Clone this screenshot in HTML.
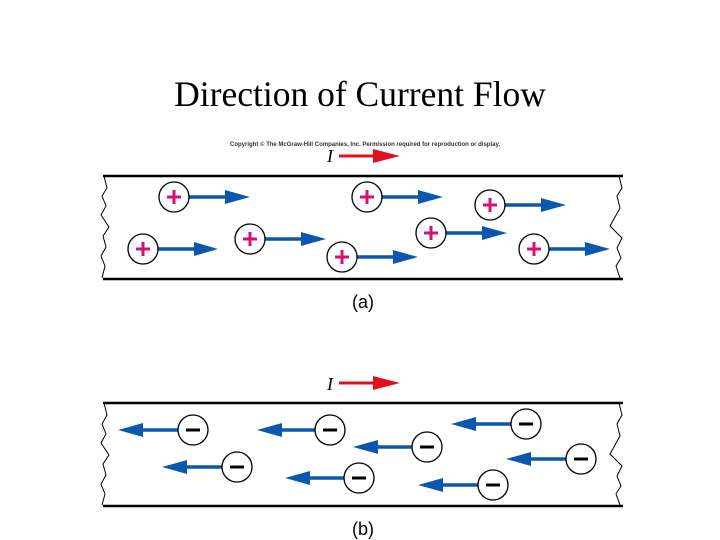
<!DOCTYPE html>
<html><head><style>
html,body{margin:0;padding:0;background:#fff;width:720px;height:540px;overflow:hidden}
</style></head><body>
<svg width="720" height="540" xmlns="http://www.w3.org/2000/svg">
<defs>
<g id="p"><circle r="15" fill="#fff" stroke="#000" stroke-width="1.3"/><path d="M-7 0H7M0 -7V7" stroke="#d6106e" stroke-width="3"/></g>
<g id="m"><circle r="15" fill="#fff" stroke="#000" stroke-width="1.3"/><path d="M-7 0H7" stroke="#000" stroke-width="3"/></g>
</defs>
<text x="360" y="106" text-anchor="middle" font-family="Liberation Serif, serif" font-size="35.5">Direction of Current Flow</text>
<text x="365" y="146" text-anchor="middle" font-family="Liberation Sans, sans-serif" font-size="6" font-weight="bold" fill="#333">Copyright © The McGraw-Hill Companies, Inc. Permission required for reproduction or display.</text>
<text x="327" y="162" font-family="Liberation Serif, serif" font-style="italic" font-size="18">I</text>
<path d="M339 156H375" stroke="#e0101e" stroke-width="3"/><path d="M373 149L400 156L373 163Z" fill="#e0101e"/>
<text x="327" y="390" font-family="Liberation Serif, serif" font-style="italic" font-size="18">I</text>
<path d="M339 383H375" stroke="#e0101e" stroke-width="3"/><path d="M373 376L400 383L373 390Z" fill="#e0101e"/>
<g stroke="#000" fill="none">
<path d="M103 176H623M103 279H623" stroke-width="2.5"/>
<path d="M104 176L107 188L102 196L106 206L101 215L109 227L103 236L106 247L101 256L105 266L102 278" stroke-width="1"/>
<path d="M619 176L622 188L617 196L620 208L610 226L622 238L617 248L621 258L616 266L620 278" stroke-width="1"/>
<path d="M103 403H623M103 506H623" stroke-width="2.5"/>
<path d="M104 403L107 415L102 424L106 434L101 443L109 455L103 464L106 475L101 484L105 494L102 505" stroke-width="1"/>
<path d="M619 403L622 415L617 424L620 436L610 454L622 466L617 476L621 486L616 494L620 505" stroke-width="1"/>
</g>
<g stroke="#0b57b0" stroke-width="3.5">
<path d="M189 197H228M382 197H421M505 205H544M158 249H197M265 239H304M357 257H396M446 233H485M549 249H588"/>
<path d="M178 430H140M315 430H279M412 447H375M222 467H184M344 478H307M511 424H473M566 459H528M478 485H440"/>
</g>
<g fill="#0b57b0">
<path d="M225 190L250 197L225 204Z"/><path d="M418 190L443 197L418 204Z"/><path d="M541 198L566 205L541 212Z"/>
<path d="M194 242L218 249L194 256Z"/><path d="M301 232L326 239L301 246Z"/><path d="M393 250L418 257L393 264Z"/>
<path d="M482 226L507 233L482 240Z"/><path d="M585 242L610 249L585 256Z"/>
<path d="M143 423L118 430L143 437Z"/><path d="M282 423L257 430L282 437Z"/><path d="M378 440L353 447L378 454Z"/>
<path d="M187 460L162 467L187 474Z"/><path d="M310 471L285 478L310 485Z"/><path d="M476 417L451 424L476 431Z"/>
<path d="M531 452L506 459L531 466Z"/><path d="M443 478L418 485L443 492Z"/>
</g>
<use href="#p" x="174" y="197"/><use href="#p" x="367" y="197"/><use href="#p" x="490" y="205"/>
<use href="#p" x="143" y="249"/><use href="#p" x="250" y="239"/><use href="#p" x="342" y="257"/>
<use href="#p" x="431" y="233"/><use href="#p" x="534" y="249"/>
<use href="#m" x="193" y="430"/><use href="#m" x="330" y="430"/><use href="#m" x="427" y="447"/>
<use href="#m" x="237" y="467"/><use href="#m" x="359" y="478"/><use href="#m" x="526" y="424"/>
<use href="#m" x="581" y="459"/><use href="#m" x="493" y="485"/>
<text x="363" y="308" text-anchor="middle" font-family="Liberation Sans, sans-serif" font-size="18">(a)</text>
<text x="363" y="535" text-anchor="middle" font-family="Liberation Sans, sans-serif" font-size="18">(b)</text>
</svg>
</body></html>
